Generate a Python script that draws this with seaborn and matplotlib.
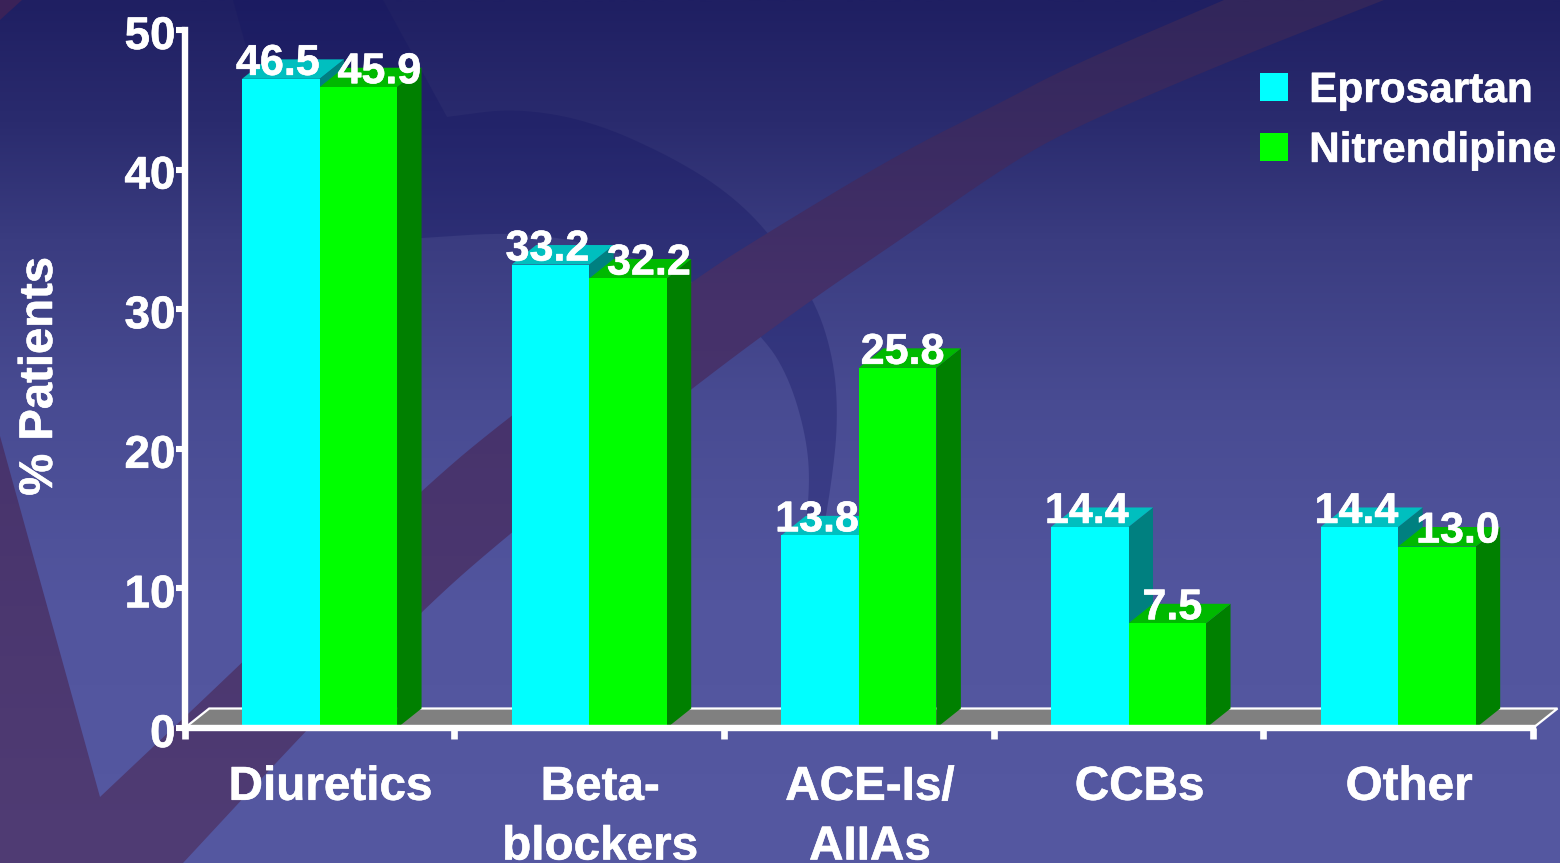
import numpy as np
import pandas as pd
import matplotlib
matplotlib.use("Agg")
import matplotlib.pyplot as plt
import matplotlib.patheffects as pe
from matplotlib.colors import LinearSegmentedColormap
from matplotlib.patches import Polygon
from matplotlib.ticker import FixedLocator
from matplotlib.transforms import ScaledTranslation
import seaborn as sns

# ---- data ----
categories = ["Diuretics", "Beta-\nblockers", "ACE-Is/\nAIIAs", "CCBs", "Other"]
eprosartan = [46.5, 33.2, 13.8, 14.4, 14.4]
nitrendipine = [45.9, 32.2, 25.8, 7.5, 13.0]
series_names = ["Eprosartan", "Nitrendipine"]
y_ticks = [0, 10, 20, 30, 40, 50]
y_label = "% Patients"

# ---- colours ----
front_cols = ["#00ffff", "#00ff00"]
top_cols = ["#00bfbf", "#00b900"]
side_cols = ["#008080", "#008000"]

W, H = 1560, 863
DPI = 100
sns.set_theme(style="ticks")
plt.rcParams["font.family"] = ["Liberation Sans", "DejaVu Sans"]
plt.rcParams["font.weight"] = "bold"

fig = plt.figure(figsize=(W / DPI, H / DPI), dpi=DPI)
heavy = [pe.withStroke(linewidth=0.4, foreground="white")]

# ---- decorative slide background (pixel coordinates) ----
bg = fig.add_axes([0, 0, 1, 1], zorder=-1)
bg.axis("off")


def vgrad(stops):
    cmap = LinearSegmentedColormap.from_list("g", [(y / H, c) for y, c in stops])
    return cmap(np.linspace(0, 1, 400))[:, None, :]


def smooth(pts, rounds=3):
    """Corner cutting that keeps the two end points of an open outline."""
    p = np.asarray(pts, float)
    for _ in range(rounds):
        q = np.empty((2 * (len(p) - 1), 2))
        q[0::2] = 0.75 * p[:-1] + 0.25 * p[1:]
        q[1::2] = 0.25 * p[:-1] + 0.75 * p[1:]
        p = np.vstack([p[:1], q, p[-1:]])
    return p


bg.imshow(vgrad([(0, "#1f1f62"), (120, "#2a2b6e"), (240, "#3a3c80"), (400, "#484b92"),
                 (600, "#52559e"), (863, "#5558a1")]),
          extent=(0, W, H, 0), aspect="auto", zorder=0)

arc_outer = smooth([(447, 117), (515, 108), (591, 121), (668, 155), (725, 190), (769, 232),
                    (815, 300), (834, 360), (838, 420), (832, 480), (820, 550)])
arc_inner = smooth([(802, 550), (810, 490), (807, 440), (790, 380), (764, 337), (698, 280),
                    (591, 243), (515, 232), (422, 238)])
arc = np.vstack([[(233, 0), (383, 0)], arc_outer, arc_inner, [(300, 240)]])
bg.add_patch(Polygon(arc, closed=True, fc="#141561", ec="none", alpha=0.33, zorder=1))

band_up = smooth([(100, 797), (242, 663), (422, 489), (511, 415), (693, 280), (767, 233), (900, 153),
                  (1000, 103), (1068, 67), (1224, 0)])
band_lo = smooth([(1384, 0), (1224, 63), (1068, 130), (1000, 170), (900, 240), (815, 297), (693, 387),
                  (510, 533), (422, 610), (300, 737), (183, 863)])
band = np.vstack([[(0, 436)], band_up, band_lo, [(0, 863)]])
band_img = bg.imshow(vgrad([(0, "#32265b"), (300, "#45316a"), (863, "#503c74")]),
                     extent=(0, W, H, 0), aspect="auto", zorder=2)
band_patch = Polygon(band, closed=True, transform=bg.transData, fc="none", ec="none")
bg.add_patch(band_patch)
band_img.set_clip_path(band_patch)
bg.add_patch(Polygon([(0, 0), (22, 0), (0, 20)], closed=True, fc="#3a2258", ec="none", zorder=2))
bg.set_xlim(0, W)
bg.set_ylim(H, 0)

# ---- main chart ----
left, right, y0, y50 = 184.7, 1533.0, 728.0, 30.0
ax = fig.add_axes([left / W, 1 - y0 / H, (right - left) / W, (y0 - y50) / H], zorder=1)
ax.patch.set_alpha(0)

df = pd.DataFrame({
    "category": categories * 2,
    "value": eprosartan + nitrendipine,
    "series": [series_names[0]] * len(categories) + [series_names[1]] * len(categories),
})
sns.barplot(data=df, x="category", y="value", hue="series", hue_order=series_names,
            palette=dict(zip(series_names, front_cols)), width=0.575, saturation=1,
            linewidth=0, ax=ax)
ax.set_xlim(-0.5, len(categories) - 0.5)
ax.set_ylim(0, 50)

# 3-D depth in pixels, converted through the axes scales
dx = 24.5 * (len(categories)) / (right - left)
dy = 19.5 * 50 / (y0 - y50)

# floor
n = len(categories)
ax.add_patch(Polygon([(-0.5, 0), (-0.5 + dx, dy), (n - 0.5 + dx, dy), (n - 0.5, 0)], closed=True,
                     fc="#808080", ec="none", zorder=1, clip_on=False))
ax.plot([-0.5, -0.5 + dx, n - 0.5 + dx, n - 0.5], [0, dy, dy, 0], color="white", lw=1.6,
        zorder=1.1, clip_on=False, solid_joinstyle="miter")

for s, cont in enumerate(ax.containers):
    for bar in cont:
        bar.set_zorder(3)
        x0, w, h = bar.get_x(), bar.get_width(), bar.get_height()
        z = 2 + 0.1 * s
        ax.add_patch(Polygon([(x0 + w, 0), (x0 + w + dx, dy), (x0 + w + dx, h + dy), (x0 + w, h)], closed=True,
                             fc=side_cols[s], ec="none", zorder=z, clip_on=False))
        ax.add_patch(Polygon([(x0, h), (x0 + dx, h + dy), (x0 + w + dx, h + dy), (x0 + w, h)], closed=True,
                             fc=top_cols[s], ec="none", zorder=z + 0.01, clip_on=False))
        # value label
        if s == 0:
            shift = -3
        else:
            other = ax.containers[0][list(cont).index(bar)].get_height()
            shift = 21 if 0 <= other - h < 2 else 5
        ax.annotate(f"{h:.1f}", (x0 + w / 2, h), xytext=(shift * 72 / DPI, 15 * 72 / DPI),
                    textcoords="offset points", ha="center", va="center", color="white",
                    fontsize=31, fontweight="bold", zorder=6, annotation_clip=False,
                    path_effects=heavy)

# axes styling
for side in ["top", "right"]:
    ax.spines[side].set_visible(False)
for side in ["left", "bottom"]:
    ax.spines[side].set_color("white")
    ax.spines[side].set_linewidth(4.6)
    ax.spines[side].set_zorder(5)
    ax.spines[side].set_capstyle("projecting")

ax.set_yticks(y_ticks)
ax.tick_params(axis="y", colors="white", length=6.5, width=4.4, pad=0, labelsize=33)
ax.tick_params(axis="x", which="major", length=0, colors="white", labelsize=34.3, pad=26.5)
ax.xaxis.set_minor_locator(FixedLocator(np.arange(-0.5, n, 1)))
ax.tick_params(axis="x", which="minor", length=8, width=4.8, colors="white")
for t in ax.yaxis.get_ticklines() + ax.xaxis.get_minorticklines():
    t.set_zorder(5)

off_x = ScaledTranslation(11 / DPI, 0, fig.dpi_scale_trans)
for lab in ax.get_xticklabels():
    lab.set_transform(lab.get_transform() + off_x)
    lab.set_fontweight("bold")
    lab.set_linespacing(1.42)
    lab.set_path_effects(heavy)
off_y = ScaledTranslation(0, -2 / DPI, fig.dpi_scale_trans)
for lab in ax.get_yticklabels():
    lab.set_transform(lab.get_transform() + off_y)
    lab.set_fontweight("bold")
    lab.set_path_effects(heavy)

ax.set_xlabel("")
ax.set_ylabel(y_label, color="white", fontsize=34, fontweight="bold", path_effects=heavy)
ax.yaxis.set_label_coords((62 - left) / (right - left), 0.504)

# legend
sns.move_legend(ax, loc="upper left", bbox_to_anchor=(1260 / W, 1 - 71 / H),
                bbox_transform=fig.transFigure, frameon=False, title=None,
                handlelength=0.66, handleheight=0.66, handletextpad=0.5,
                labelspacing=0.47, borderpad=0, borderaxespad=0, labelcolor="white",
                prop={"family": "Liberation Sans", "weight": "bold", "size": 30.5})
for txt in ax.get_legend().get_texts():
    txt.set_path_effects(heavy)

fig.savefig("out.png", dpi=DPI, facecolor="#3a3c80")
